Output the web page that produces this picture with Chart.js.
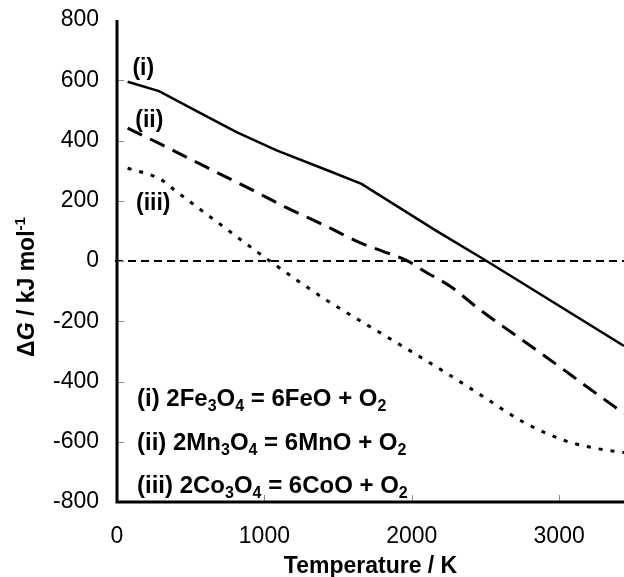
<!DOCTYPE html>
<html><head><meta charset="utf-8">
<script src="https://cdn.jsdelivr.net/npm/chart.js@4.4.0/dist/chart.umd.min.js"></script>
<style>html,body{margin:0;padding:0;background:#fff;}#wrap{width:624px;height:577px;position:relative;overflow:hidden;}</style>
</head><body><div id="wrap"><canvas id="c" width="624" height="577"></canvas></div>
<script>
// ---- data ----
const tempI = [72, 285, 608, 811, 1083, 1444, 1659, 2167, 2508, 3440];
const dGI   = [595, 564, 480, 428, 367, 298, 256, 100, 0, -282];

const tempII = [72, 300, 600, 900, 1150, 1410, 1647, 1800, 1964, 2100, 2258, 2461, 2890, 3297, 3440];
const dGII   = [441, 387, 313, 240, 177, 118, 61, 33, 2, -38, -83, -161, -311, -456, -506];

const tempIII = [72, 292, 400, 653, 1037, 1422, 1700, 1975, 2235, 2500, 2766, 3049, 3250, 3440];
const dGIII   = [308, 272, 232, 139, 0, -130, -213, -294, -372, -455, -537, -598, -622, -636];

const xTicks = [0, 1000, 2000, 3000];
const yTicks = [-800, -600, -400, -200, 0, 200, 400, 600, 800];
const curveLabels = ['(i)', '(ii)', '(iii)'];
const reactionTexts = [
  [['(i) 2Fe',0],['3',1],['O',0],['4',1],[' = 6FeO + O',0],['2',1]],
  [['(ii) 2Mn',0],['3',1],['O',0],['4',1],[' = 6MnO + O',0],['2',1]],
  [['(iii) 2Co',0],['3',1],['O',0],['4',1],[' = 6CoO + O',0],['2',1]]
];
const xTitle = 'Temperature / K';
const yTitleParts = [['\u0394',0],['G',2],[' / kJ mol',0],['-1',3]];

// ---- layout / style (not data) ----
const FONT = '"Liberation Sans", Arial, sans-serif';
const labelAnchors = [{x:178,y:639},{x:219,y:467},{x:246,y:189}];
const toXY = (xs, ys) => xs.map((v,i)=>({x:v, y:ys[i]}));

function drawRich(ctx, segs, x, yMid, size, align) {
  const sub = Math.round(size*0.66);
  const fontFor = t => (t===2 ? 'italic bold ' : 'bold ') + ((t===1||t===3)?sub:size) + 'px ' + FONT;
  let total = 0;
  segs.forEach(([s,t]) => { ctx.font = fontFor(t); total += ctx.measureText(s).width; });
  let cx = align === 'center' ? x - total/2 : x;
  const base = yMid + size*0.36;
  ctx.textBaseline = 'alphabetic';
  ctx.textAlign = 'left';
  segs.forEach(([s,t]) => {
    ctx.font = fontFor(t);
    let dy = 0;
    if (t===1) dy = size*0.24;
    if (t===3) dy = -size*0.42;
    ctx.fillText(s, cx, base + dy);
    cx += ctx.measureText(s).width;
  });
}

const extras = {
  id: 'extras',
  beforeDatasetsDraw(chart) {
    const {ctx, chartArea: a, scales: {x, y}} = chart;
    ctx.save();
    // zero reference line
    const y0 = y.getPixelForValue(0);
    ctx.strokeStyle = '#000'; ctx.lineWidth = 2; ctx.setLineDash([8,5]);
    ctx.beginPath(); ctx.moveTo(a.left - 2, y0); ctx.lineTo(a.right, y0); ctx.stroke();
    ctx.setLineDash([]);
    // inward tick marks
    ctx.strokeStyle = '#8a8a8a'; ctx.lineWidth = 1;
    yTicks.forEach(v => {
      if (v === y.min || v === y.max) return;
      const py = Math.round(y.getPixelForValue(v)) + 0.5;
      ctx.beginPath(); ctx.moveTo(a.left, py); ctx.lineTo(a.left + 7, py); ctx.stroke();
    });
    xTicks.forEach(v => {
      if (v === x.min) return;
      const px = Math.round(x.getPixelForValue(v)) + 0.5;
      ctx.beginPath(); ctx.moveTo(px, a.bottom); ctx.lineTo(px, a.bottom - 7); ctx.stroke();
    });
    // axis lines
    ctx.strokeStyle = '#000'; ctx.lineWidth = 3; ctx.lineCap = 'butt';
    ctx.beginPath();
    ctx.moveTo(a.left, a.top); ctx.lineTo(a.left, a.bottom + 1.5);
    ctx.moveTo(a.left - 1.5, a.bottom); ctx.lineTo(a.right, a.bottom);
    ctx.stroke();
    ctx.restore();
  },
  afterDraw(chart) {
    const {ctx, chartArea: a, scales: {x, y}} = chart;
    ctx.save();
    ctx.fillStyle = '#000';
    // curve labels
    curveLabels.forEach((t, i) => {
      ctx.font = 'bold 23px ' + FONT;
      ctx.textAlign = 'center'; ctx.textBaseline = 'middle';
      ctx.fillText(t, x.getPixelForValue(labelAnchors[i].x), y.getPixelForValue(labelAnchors[i].y));
    });
    // reaction legend
    const rowsFromBottom = [105, 61, 18];
    reactionTexts.forEach((segs, i) => drawRich(ctx, segs, a.left + 20, a.bottom - rowsFromBottom[i], 24, 'left'));
    // y title
    ctx.translate(26, 287);
    ctx.rotate(-Math.PI/2);
    drawRich(ctx, yTitleParts, 0, 0, 23, 'center');
    ctx.restore();
  }
};

const lineDs = (label, data, dash, width, smooth) => ({
  label, data, borderColor:'#000', backgroundColor:'#000', borderWidth: width,
  borderDash: dash, borderCapStyle:'butt', pointRadius:0, tension:0, fill:false,
  cubicInterpolationMode: smooth ? 'monotone' : 'default'
});

new Chart(document.getElementById('c'), {
  type: 'line',
  data: { datasets: [
    lineDs(curveLabels[0], toXY(tempI, dGI), [], 2.5, false),
    lineDs(curveLabels[1], toXY(tempII, dGII), [16,9], 3, true),
    lineDs(curveLabels[2], toXY(tempIII, dGIII), [4,8], 3, true)
  ]},
  options: {
    responsive: false, animation: false, devicePixelRatio: 1,
    layout: { padding: { top: 20, right: 0, left: 0, bottom: 0 } },
    plugins: { legend: { display: false }, tooltip: { enabled: false } },
    scales: {
      x: {
        type: 'linear', min: 0, max: 3440,
        afterBuildTicks: s => { s.ticks = xTicks.map(v => ({value: v})); },
        afterFit: s => { s.height = 75; s.paddingLeft = 0; s.paddingRight = 0; },
        grid: { display: false },
        border: { display: false },
        ticks: { color: '#000', font: { family: FONT, size: 23 }, padding: 13, maxRotation: 0, autoSkip: false,
                 callback: v => String(v) },
        title: { display: true, text: xTitle, color: '#000', font: { family: FONT, size: 23, weight: 'bold', lineHeight: 0.9 }, padding: { top: 0, bottom: 0 } }
      },
      y: {
        type: 'linear', min: -800, max: 800,
        afterBuildTicks: s => { s.ticks = yTicks.map(v => ({value: v})); },
        afterFit: s => { s.width = 117; s.paddingTop = 0; s.paddingBottom = 0; },
        grid: { display: false },
        border: { display: false },
        ticks: { color: '#000', font: { family: FONT, size: 23 }, padding: 10, autoSkip: false,
                 callback: v => String(v) }
      }
    }
  },
  plugins: [extras]
});
</script>
</body></html>
